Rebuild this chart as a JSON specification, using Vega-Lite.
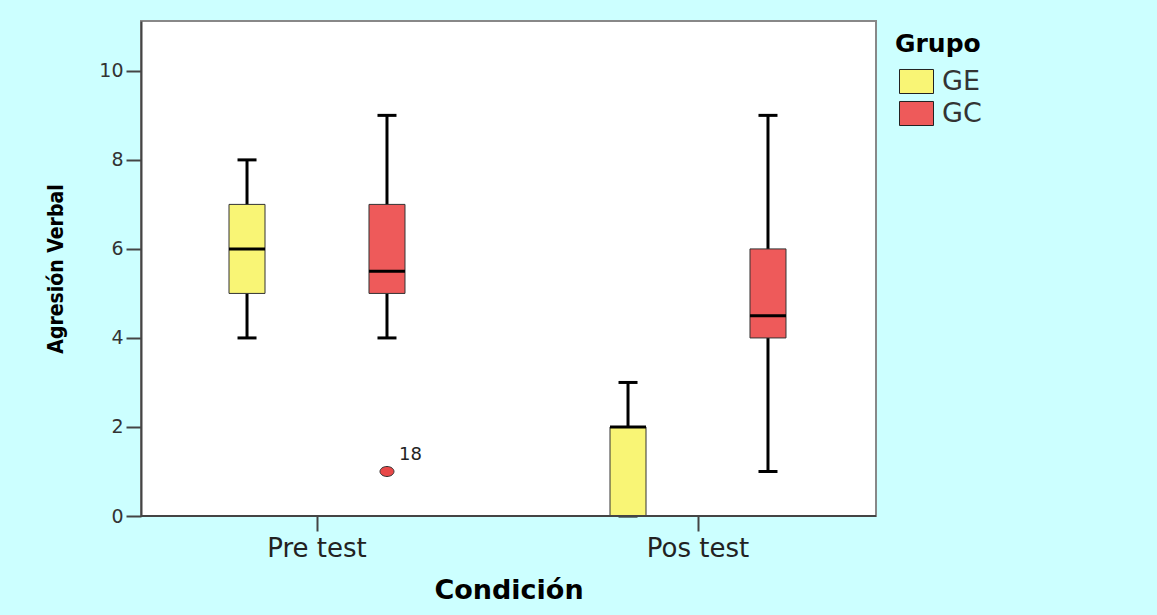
{
  "$schema": "https://vega.github.io/schema/vega-lite/v6.json",
  "width": 735,
  "height": 495,
  "autosize": {"type": "none"},
  "padding": {"left": 141, "top": 21, "right": 281, "bottom": 99},
  "background": "#ccffff",
  "datasets": {
    "boxes": [
      {"cond": "Pre test", "group": "GE", "min": 4, "q1": 5, "median": 6, "q3": 7, "max": 8},
      {"cond": "Pre test", "group": "GC", "min": 4, "q1": 5, "median": 5.5, "q3": 7, "max": 9},
      {"cond": "Pos test", "group": "GE", "min": 0, "q1": 0, "median": 2, "q3": 2, "max": 3},
      {"cond": "Pos test", "group": "GC", "min": 1, "q1": 4, "median": 4.5, "q3": 6, "max": 9}
    ],
    "outliers": [
      {"cond": "Pre test", "group": "GC", "value": 1, "label": "18"}
    ]
  },
  "data": {"name": "boxes"},
  "layer": [
    {
      "mark": {"type": "rule", "color": "black", "strokeWidth": 3},
      "encoding": {
        "x": {"field": "cond", "type": "nominal", "sort": ["Pre test", "Pos test"], "title": "Condición",
              "scale": {"domain": ["Pre test", "Pos test"], "range": [-14.5, 747.5], "paddingInner": 0, "paddingOuter": 0}},
        "xOffset": {"field": "group", "type": "nominal", "scale": {"domain": ["GE", "GC"], "paddingInner": 0, "paddingOuter": 0.361}},
        "y": {"field": "min", "type": "quantitative", "title": "Agresión Verbal",
              "scale": {"domain": [0, 11.12], "nice": false, "zero": false},
              "axis": {"values": [0, 2, 4, 6, 8, 10]}},
        "y2": {"field": "max"}
      }
    },
    {
      "mark": {"type": "tick", "color": "black", "thickness": 3, "size": 19, "orient": "horizontal", "opacity": 1},
      "encoding": {
        "x": {"field": "cond", "type": "nominal", "title": "Condición"},
        "xOffset": {"field": "group", "type": "nominal"},
        "y": {"field": "max", "type": "quantitative", "title": "Agresión Verbal", "axis": {"values": [0, 2, 4, 6, 8, 10]}}
      }
    },
    {
      "mark": {"type": "tick", "color": "black", "thickness": 3, "size": 19, "orient": "horizontal", "opacity": 1},
      "encoding": {
        "x": {"field": "cond", "type": "nominal", "title": "Condición"},
        "xOffset": {"field": "group", "type": "nominal"},
        "y": {"field": "min", "type": "quantitative", "title": "Agresión Verbal", "axis": {"values": [0, 2, 4, 6, 8, 10]}}
      }
    },
    {
      "mark": {"type": "bar", "width": 36, "stroke": "#333333", "strokeWidth": 1, "opacity": 1},
      "encoding": {
        "x": {"field": "cond", "type": "nominal", "title": "Condición"},
        "xOffset": {"field": "group", "type": "nominal"},
        "y": {"field": "q1", "type": "quantitative", "title": "Agresión Verbal", "axis": {"values": [0, 2, 4, 6, 8, 10]}},
        "y2": {"field": "q3"},
        "fill": {"field": "group", "type": "nominal", "title": "Grupo",
                 "scale": {"domain": ["GE", "GC"], "range": ["#f9f575", "#ee5a5a"]}}
      }
    },
    {
      "mark": {"type": "tick", "color": "black", "thickness": 3, "size": 36, "orient": "horizontal", "opacity": 1},
      "encoding": {
        "x": {"field": "cond", "type": "nominal", "title": "Condición"},
        "xOffset": {"field": "group", "type": "nominal"},
        "y": {"field": "median", "type": "quantitative", "title": "Agresión Verbal", "axis": {"values": [0, 2, 4, 6, 8, 10]}}
      }
    },
    {
      "data": {"values": [{"z": 0}]},
      "mark": {"type": "rule", "color": "#444444", "strokeWidth": 2},
      "encoding": {
        "y": {"datum": 0, "type": "quantitative"}
      }
    },
    {
      "data": {"name": "outliers"},
      "mark": {"type": "point", "filled": true, "fill": "#e84848", "stroke": "#333333", "strokeWidth": 1, "opacity": 1,
               "shape": "M-1.4,0A1.4,1,0,1,0,1.4,0A1.4,1,0,1,0,-1.4,0Z", "size": 100},
      "encoding": {
        "x": {"field": "cond", "type": "nominal", "title": "Condición"},
        "xOffset": {"field": "group", "type": "nominal"},
        "y": {"field": "value", "type": "quantitative", "title": "Agresión Verbal", "axis": {"values": [0, 2, 4, 6, 8, 10]}}
      }
    },
    {
      "data": {"name": "outliers"},
      "mark": {"type": "text", "align": "left", "baseline": "middle", "dx": 12, "dy": -16, "font": "DejaVu Sans", "fontSize": 18, "color": "#222222"},
      "encoding": {
        "x": {"field": "cond", "type": "nominal", "title": "Condición"},
        "xOffset": {"field": "group", "type": "nominal"},
        "y": {"field": "value", "type": "quantitative", "title": "Agresión Verbal", "axis": {"values": [0, 2, 4, 6, 8, 10]}},
        "text": {"field": "label"}
      }
    }
  ],
  "resolve": {"scale": {"x": "shared", "y": "shared", "xOffset": "shared"}},
  "config": {
    "view": {"stroke": "#888888", "strokeWidth": 2, "fill": "white"},
    "axisY": {
      "grid": false,
      "domainColor": "#444444", "domainWidth": 2,
      "tickColor": "#444444", "tickWidth": 2, "tickSize": 15,
      "labelPadding": 3, "labelFont": "DejaVu Sans", "labelFontSize": 19, "labelColor": "#333333",
      "titleFont": "DejaVu Sans Condensed, Liberation Sans", "titleFontSize": 21, "titleFontWeight": "bold", "titleColor": "black",
      "titleX": -79, "titleY": 247.5, "titleAngle": -90, "titleAlign": "center", "titleBaseline": "alphabetic"
    },
    "axisX": {
      "domain": false,
      "grid": false,
      "tickColor": "#444444", "tickWidth": 2, "tickSize": 15,
      "labelAngle": 0, "labelPadding": 4, "labelFont": "DejaVu Sans", "labelFontSize": 26, "labelColor": "#222222",
      "titleFont": "DejaVu Sans", "titleFontSize": 27, "titleFontWeight": "bold", "titleColor": "black",
      "titleX": 367.5, "titleY": 82, "titleAlign": "center", "titleBaseline": "alphabetic"
    },
    "legend": {
      "orient": "none", "legendX": 754, "legendY": 11,
      "titleFont": "DejaVu Sans", "titleFontSize": 25, "titleFontWeight": "bold", "titleColor": "black", "titlePadding": 7,
      "labelFont": "DejaVu Sans", "labelFontSize": 27, "labelColor": "#333333", "labelOffset": 8,
      "symbolType": "M-1,-0.706L1,-0.706L1,0.706L-1,0.706Z", "symbolSize": 1156,
      "symbolStrokeColor": "#222222", "symbolStrokeWidth": 1, "symbolOpacity": 1, "symbolOffset": 4,
      "rowPadding": -3
    }
  }
}
